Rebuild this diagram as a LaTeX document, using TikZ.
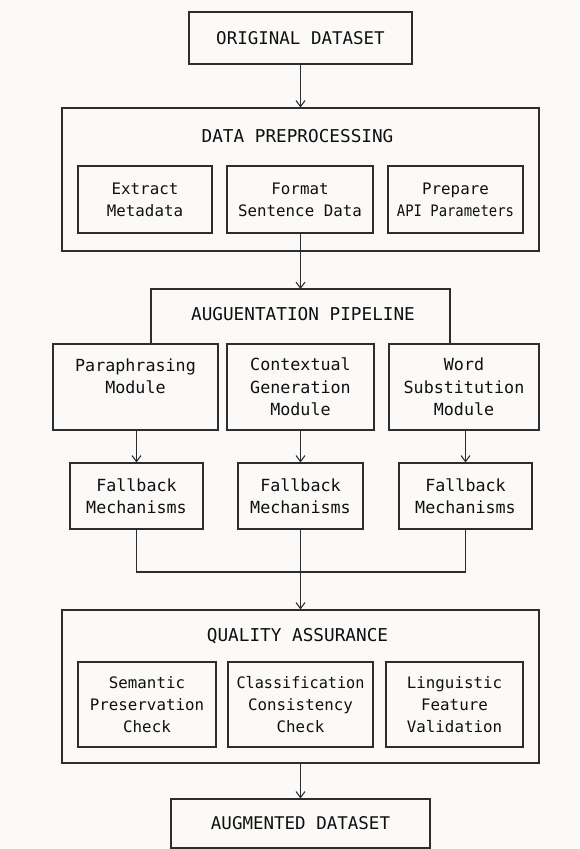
\documentclass[tikz,border=0pt]{standalone}
\usepackage{fontspec}
\setmonofont{DejaVu Sans Mono}
\usetikzlibrary{arrows.meta}
\definecolor{bg}{RGB}{251,250,248}
\definecolor{ln}{RGB}{45,45,45}
\definecolor{tx}{RGB}{15,15,15}
\begin{document}
\begin{tikzpicture}[x=1pt,y=-1pt,
  box/.style={draw=ln,line width=1.1pt,fill=bg,text=tx,align=center,inner sep=0pt,font=\ttfamily\fontsize{16.7}{22.3}\selectfont},
  bigbox/.style={box,font=\ttfamily\fontsize{17.5}{22}\selectfont},
  innerbox/.style={box,font=\ttfamily\fontsize{15.8}{22}\selectfont},
  title/.style={text=tx,inner sep=0pt,font=\ttfamily\fontsize{17.7}{22}\selectfont},
  conn/.style={draw=ln,line width=1.1pt},
  arr/.style={conn,-{Straight Barb[length=6pt,width=9pt]}}]
\fill[bg] (0,0) rectangle (580,849);
\useasboundingbox (0,0) rectangle (580,849);
% top
\node[bigbox,minimum width=223pt,minimum height=52pt] (orig) at (300.5,38) {ORIGINAL DATASET};
% data preprocessing
\node[box,minimum width=477pt,minimum height=143pt] (dp) at (300.5,179.5) {};
\node[title] (dpt) at (297.5,136) {DATA PREPROCESSING};
\node[innerbox,minimum width=134pt,minimum height=67pt] (ext) at (145,199.5) {Extract\\Metadata};
\node[innerbox,minimum width=146pt,minimum height=67pt] (fmt) at (300,199.5) {Format\\Sentence Data};
\node[innerbox,minimum width=135pt,minimum height=67pt] (prep) at (455.5,199.5) {Prepare\\\scalebox{0.88}[1]{API Parameters}};
% pipeline
\coordinate (pl) at (151,344);
\coordinate (pr) at (450,344);
\coordinate (pt) at (300.5,289);
\draw[conn] (pl) -- (pl |- pt) -- (pr |- pt) -- (pr);
\node[title] (plt) at (303,314) {AUGUENTATION PIPELINE};
\node[box,minimum width=165pt,minimum height=86pt] (para) at (135.5,387) {Paraphrasing\\Module\\\phantom{M}};
\node[box,minimum width=147pt,minimum height=86pt] (ctx) at (300.5,387) {Contextual\\Generation\\Module};
\node[box,minimum width=150pt,minimum height=86pt] (word) at (464,387) {Word\\Substitution\\Module};
\node[box,minimum width=133pt,minimum height=66pt] (fb1) at (136.5,496) {Fallback\\Mechanisms};
\node[box,minimum width=125pt,minimum height=66pt] (fb2) at (300.5,496) {Fallback\\Mechanisms};
\node[box,minimum width=133pt,minimum height=66pt] (fb3) at (465.5,496) {Fallback\\Mechanisms};
\coordinate (m) at (300.5,572);
% quality assurance
\node[box,minimum width=477pt,minimum height=153pt] (qa) at (300.5,686.5) {};
\node[title] (qat) at (297.5,636) {QUALITY ASSURANCE};
\node[innerbox,minimum width=138pt,minimum height=85pt] (sem) at (147,704.5) {Semantic\\Preservation\\Check};
\node[innerbox,minimum width=145pt,minimum height=85pt] (cls) at (300.5,704.5) {\scalebox{0.96}[1]{Classification}\\Consistency\\Check};
\node[innerbox,minimum width=137pt,minimum height=85pt] (ling) at (454.5,704.5) {Linguistic\\Feature\\Validation};
\node[bigbox,minimum width=259pt,minimum height=49pt] (aug) at (300.5,823.5) {AUGMENTED DATASET};
% connectors
\draw[arr] (orig.south) -- (orig.south |- dp.north);
\draw[arr] (fmt.south -| pt) -- (pt);
\draw[arr] (para.south -| fb1.north) -- (fb1.north);
\draw[arr] (ctx.south -| fb2.north) -- (fb2.north);
\draw[arr] (word.south -| fb3.north) -- (fb3.north);
\draw[conn] (fb1.south) |- (m) -| (fb3.south);
\draw[conn] (fb2.south) -- (m);
\draw[arr] (m) -- (qa.north);
\draw[arr] (qa.south) -- (aug.north);
\end{tikzpicture}
\end{document}
